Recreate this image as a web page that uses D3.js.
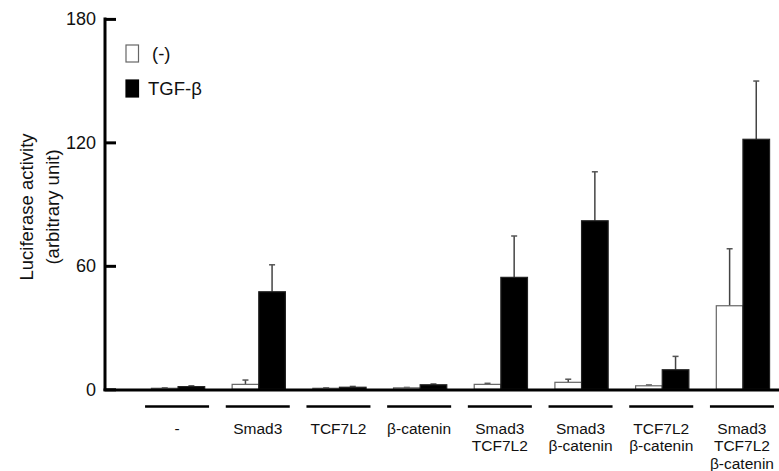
<!DOCTYPE html>
<html>
<head>
<meta charset="utf-8">
<script src="https://cdn.jsdelivr.net/npm/d3@7"></script>
<style>
  body { margin: 0; background: #fff; }
  text { font-family: "Liberation Sans", Arial, sans-serif; fill: #111; }
</style>
</head>
<body>
<div class="chart"></div>
<script>
// group labels (each line is an element)
var groups = [["-"], ["Smad3"], ["TCF7L2"], ["\u03b2-catenin"], ["Smad3", "TCF7L2"],
  ["Smad3", "\u03b2-catenin"], ["TCF7L2", "\u03b2-catenin"], ["Smad3", "TCF7L2", "\u03b2-catenin"]];
var series = ["(-)", "TGF-\u03b2"];

// values
var ctrlValues = [0.5, 2.4, 0.5, 0.7, 2.4, 3.4, 1.7, 40.6];
var ctrlErrors = [0.2, 2.1, 0.2, 0.2, 0.5, 1.5, 0.4, 27.7];
var tgfValues = [1.3, 47.4, 1.0, 2.2, 54.4, 81.9, 9.5, 121.5];
var tgfErrors = [0.4, 13.1, 0.4, 0.4, 20.1, 23.8, 6.5, 28.3];
var yTicks = [0, 60, 120, 180];

var svgWidth = 779, svgHeight = 471;

var svg = d3.select(".chart").append("svg")
  .attr("width", svgWidth)
  .attr("height", svgHeight);

var yScale = d3.scaleLinear().domain([0, 180]).range([389.3, 18.9]);

var keys = groups.map(function(g) { return g.join(" "); });
var x0 = d3.scaleBand().domain(keys).range([124, 797]).padding(0.34);
var x1 = d3.scaleBand().domain(series).range([0, x0.bandwidth()]);

var data = keys.map(function(k, i) {
  return [
    { key: k, s: series[0], v: ctrlValues[i], e: ctrlErrors[i] },
    { key: k, s: series[1], v: tgfValues[i], e: tgfErrors[i] }
  ];
});

var axisX = 105;

// bars
var gGroup = svg.selectAll(".grp")
  .data(data)
  .enter()
  .append("g")
  .attr("class", "grp");

// error bars first (behind bars)
gGroup.selectAll(".err")
  .data(function(d) { return d; })
  .enter()
  .append("g")
  .each(function(d) {
    var cx = x0(d.key) + x1(d.s) + x1.bandwidth() / 2;
    var g = d3.select(this);
    g.append("line")
      .attr("x1", cx).attr("x2", cx)
      .attr("y1", yScale(d.v)).attr("y2", yScale(d.v + d.e))
      .attr("stroke", "#444").attr("stroke-width", 1.5);
    g.append("line")
      .attr("x1", cx - 3).attr("x2", cx + 3)
      .attr("y1", yScale(d.v + d.e)).attr("y2", yScale(d.v + d.e))
      .attr("stroke", "#555").attr("stroke-width", 1.5);
  });

gGroup.selectAll("rect")
  .data(function(d) { return d; })
  .enter()
  .append("rect")
  .attr("x", function(d) { return x0(d.key) + x1(d.s); })
  .attr("y", function(d) { return yScale(d.v); })
  .attr("width", x1.bandwidth())
  .attr("height", function(d) { return yScale(0) - yScale(d.v); })
  .attr("fill", function(d) { return d.s === series[0] ? "#fff" : "#000"; })
  .attr("stroke", function(d) { return d.s === series[0] ? "#666" : "#222"; })
  .attr("stroke-width", 1.2);

// y axis (ticks inside)
var yAxis = d3.axisRight(yScale).tickValues(yTicks).tickSize(11).tickFormat("");
var yG = svg.append("g")
  .attr("transform", "translate(" + axisX + ",0)")
  .call(yAxis);
yG.select(".domain").remove();
yG.selectAll(".tick line").attr("stroke", "#000").attr("stroke-width", 3);

svg.append("line")
  .attr("x1", axisX).attr("x2", axisX)
  .attr("y1", yScale(180) - 1.5).attr("y2", yScale(0) + 1.5)
  .attr("stroke", "#000").attr("stroke-width", 3);

svg.selectAll(".ylab")
  .data(yTicks)
  .enter()
  .append("text")
  .attr("x", 96)
  .attr("y", function(d) { return yScale(d); })
  .attr("dy", "0.35em")
  .attr("text-anchor", "end")
  .style("font-size", "18px")
  .text(function(d) { return d; });

// baseline
svg.append("line")
  .attr("x1", axisX - 1.5).attr("x2", svgWidth)
  .attr("y1", yScale(0) + 0.8).attr("y2", yScale(0) + 0.8)
  .attr("stroke", "#000").attr("stroke-width", 3);

// group underlines and labels
var labG = svg.selectAll(".lab")
  .data(groups)
  .enter()
  .append("g")
  .attr("transform", function(d, i) {
    return "translate(" + (x0(keys[i]) + x0.bandwidth() / 2 - 1) + ",0)";
  });

labG.append("line")
  .attr("x1", -32).attr("x2", 32)
  .attr("y1", 406.5).attr("y2", 406.5)
  .attr("stroke", "#000").attr("stroke-width", 2.5);

labG.selectAll("text")
  .data(function(d) { return d; })
  .enter()
  .append("text")
  .attr("x", 0)
  .attr("y", function(d, j) { return 433.5 + j * 17.5; })
  .attr("text-anchor", "middle")
  .style("font-size", "15.5px")
  .text(function(d) { return d; });

// y title
svg.append("text")
  .attr("transform", "translate(33,207) rotate(-90)")
  .attr("text-anchor", "middle")
  .style("font-size", "18.5px")
  .text("Luciferase activity");
svg.append("text")
  .attr("transform", "translate(59,207) rotate(-90)")
  .attr("text-anchor", "middle")
  .style("font-size", "18.5px")
  .text("(arbitrary unit)");

// legend
var legend = svg.selectAll(".leg")
  .data(series)
  .enter()
  .append("g")
  .attr("transform", function(d, i) { return "translate(126," + (45 + i * 35) + ")"; });

legend.append("rect")
  .attr("width", 12.5).attr("height", 17)
  .attr("fill", function(d, i) { return i === 0 ? "#fff" : "#000"; })
  .attr("stroke", function(d, i) { return i === 0 ? "#666" : "#000"; })
  .attr("stroke-width", 1.2);

legend.append("text")
  .attr("x", function(d, i) { return i === 0 ? 26 : 22; })
  .attr("y", 8.5)
  .attr("dy", "0.35em")
  .style("font-size", "18.5px")
  .text(function(d) { return d; });
</script>
</body>
</html>
